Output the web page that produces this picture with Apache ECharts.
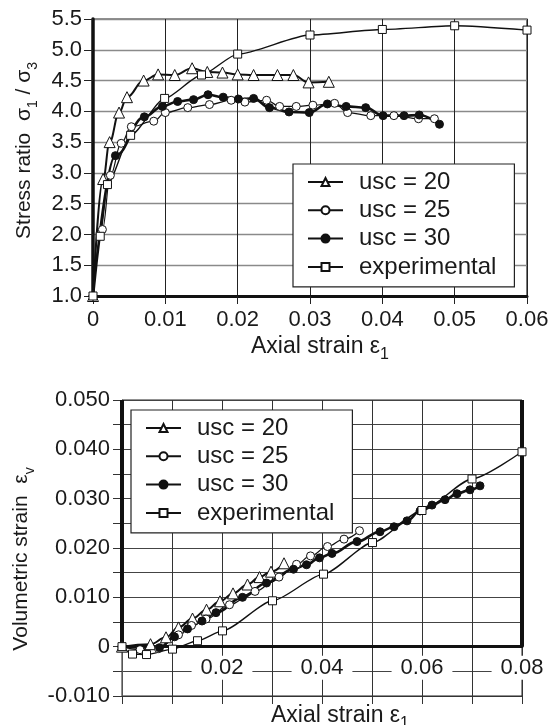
<!DOCTYPE html>
<html><head><meta charset="utf-8">
<script src="https://cdn.jsdelivr.net/npm/echarts@6/dist/echarts.min.js"></script>
<style>html,body{margin:0;padding:0;background:#fff}#c{width:552px;height:725px}</style>
</head><body><div id="c"></div>
<script>
// ---------- tick labels ----------
const xTicks1 = ['0','0.01','0.02','0.03','0.04','0.05','0.06'];
const yTicks1 = ['1.0','1.5','2.0','2.5','3.0','3.5','4.0','4.5','5.0','5.5'];
const xTicks2 = ['0','0.02','0.04','0.06','0.08'];
const yTicks2 = ['-0.010','','0','','0.010','','0.020','','0.030','','0.040','','0.050'];
const seriesNames = ['usc = 20','usc = 25','usc = 30','experimental'];

// ---------- top chart: stress ratio vs axial strain ----------
const usc20X = [0, 0.0014, 0.0023, 0.0036, 0.0047, 0.0070, 0.0090, 0.0113, 0.0137, 0.0158, 0.0179, 0.0200, 0.0222, 0.0255, 0.0277, 0.0298, 0.0326];
const usc20Y = [1.0, 2.90, 3.50, 3.98, 4.23, 4.50, 4.60, 4.59, 4.70, 4.64, 4.63, 4.60, 4.59, 4.59, 4.59, 4.47, 4.48];
const usc25X = [0, 0.0013, 0.0024, 0.0039, 0.0053, 0.0084, 0.0100, 0.0131, 0.0161, 0.0191, 0.0210, 0.0240, 0.0258, 0.0281, 0.0304, 0.0334, 0.0352, 0.0384, 0.0416, 0.0450, 0.0472];
const usc25Y = [1.0, 2.08, 2.96, 3.48, 3.75, 3.84, 3.98, 4.06, 4.11, 4.18, 4.15, 4.18, 4.08, 4.08, 4.10, 4.13, 3.98, 3.93, 3.93, 3.88, 3.88];
const usc30X = [0, 0.0031, 0.0071, 0.0096, 0.0117, 0.0139, 0.0159, 0.0180, 0.0201, 0.0222, 0.0244, 0.0271, 0.0299, 0.0324, 0.0350, 0.0377, 0.0401, 0.0430, 0.0451, 0.0479];
const usc30Y = [1.0, 3.28, 3.91, 4.08, 4.16, 4.19, 4.27, 4.23, 4.20, 4.21, 4.06, 3.99, 3.98, 4.12, 4.08, 4.06, 3.93, 3.93, 3.94, 3.79];
const expX = [0, 0.0010, 0.0020, 0.0052, 0.0099, 0.0150, 0.0200, 0.0300, 0.0400, 0.0500, 0.0600];
const expY = [1.0, 1.97, 2.81, 3.61, 4.21, 4.59, 4.93, 5.24, 5.33, 5.39, 5.32];

// ---------- bottom chart: volumetric strain vs axial strain ----------
const usc20X2 = [0, 0.0057, 0.0088, 0.0113, 0.0141, 0.0169, 0.0196, 0.0222, 0.0251, 0.0275, 0.0298, 0.0324];
const usc20Y2 = [0, 0.0005, 0.0019, 0.0039, 0.0057, 0.0075, 0.0092, 0.0108, 0.0126, 0.0141, 0.0152, 0.0169];
const usc25X2 = [0, 0.0036, 0.0073, 0.0113, 0.0139, 0.0168, 0.0215, 0.0266, 0.0314, 0.0349, 0.0377, 0.0411, 0.0444, 0.0475];
const usc25Y2 = [0, -0.0006, -0.0004, 0.0024, 0.0043, 0.0056, 0.0085, 0.0112, 0.0141, 0.0167, 0.0184, 0.0203, 0.0218, 0.0235];
const usc30X2 = [0, 0.0075, 0.0105, 0.0131, 0.0160, 0.0188, 0.0241, 0.0289, 0.0343, 0.0369, 0.0395, 0.0420, 0.0470, 0.0516, 0.0544, 0.0570, 0.0596, 0.0620, 0.0646, 0.0670, 0.0696, 0.0716];
const usc30Y2 = [0, -0.0002, 0.0020, 0.0036, 0.0052, 0.0069, 0.0100, 0.0129, 0.0157, 0.0166, 0.0180, 0.0189, 0.0213, 0.0233, 0.0243, 0.0255, 0.0275, 0.0287, 0.0298, 0.0310, 0.0318, 0.0326];
const expX2 = [0, 0.0021, 0.0049, 0.0101, 0.0151, 0.0201, 0.0301, 0.0403, 0.0501, 0.0600, 0.0700, 0.0800];
const expY2 = [0, -0.0015, -0.0016, -0.0005, 0.0012, 0.0032, 0.0093, 0.0147, 0.0211, 0.0276, 0.0340, 0.0395];

// ---------- axis ranges ----------
const X1_MIN = 0, X1_MAX = 0.06, X1_INT = 0.01;
const Y1_MIN = 1, Y1_MAX = 5.5, Y1_INT = 0.5;
const X2_MIN = 0, X2_MAX = 0.08, X2_INT = 0.01, X2_LBL_INT = 0.02;
const Y2_MIN = -0.01, Y2_MAX = 0.05, Y2_INT = 0.005;

const GRID1 = { left: 93, top: 19, width: 434, height: 277 };
const GRID2 = { left: 122, top: 400, width: 400, height: 296 };
// distance from the bottom border up to the zero line of the lower chart
const ZERO_OFFSET2 = (0 - Y2_MIN) / (Y2_MAX - Y2_MIN) * GRID2.height;

const FONT = "'Liberation Sans', Arial, sans-serif";
const INK = '#1a1a1a';

const zip = (xs, ys) => xs.map((x, i) => [x, ys[i]]);

const styles = {
  'usc = 20':     { symbol: 'triangle', size: 11, fill: '#fff', width: 2.0, smooth: 0.4 },
  'usc = 25':     { symbol: 'circle',   size: 8,  fill: '#fff', width: 1.2, smooth: 0.4 },
  'usc = 30':     { symbol: 'circle',   size: 8,  fill: '#111', width: 2.6, smooth: 0.4 },
  'experimental': { symbol: 'rect',     size: 8,  fill: '#fff', width: 1.4, smooth: 0.22 }
};

function mkSeries(name, data, xi, yi, extra) {
  const s = styles[name];
  return Object.assign({
    type: 'line', name: name, data: data,
    xAxisIndex: xi, yAxisIndex: yi,
    smooth: s.smooth, smoothMonotone: 'x', clip: false, z: 5,
    symbol: s.symbol, symbolSize: s.size, showAllSymbol: true,
    lineStyle: { color: '#111', width: s.width },
    itemStyle: { color: s.fill, borderColor: '#111', borderWidth: 1 },
    emphasis: { disabled: true }, animation: false
  }, extra || {});
}

function richFor(size) {
  return {
    t: { fontSize: size, lineHeight: 32, fontFamily: FONT, color: INK },
    s: { fontSize: Math.round(size * 0.68), verticalAlign: 'bottom', fontFamily: FONT, color: INK }
  };
}
const xNameRich = richFor(23);
const yNameRich = richFor(21);

const legendCommon = {
  orient: 'vertical', itemWidth: 35, itemHeight: 10, itemGap: 4.3,
  padding: [6, 18, 8, 14], backgroundColor: '#fff',
  borderColor: '#222', borderWidth: 1.2, selectedMode: false,
  textStyle: { fontSize: 24, color: INK, fontFamily: FONT, padding: [0, 0, 0, 11] },
  data: seriesNames
};

const gridCommon = { show: true, borderColor: '#222', backgroundColor: 'transparent', containLabel: false, outerBoundsMode: 'none' };

const option = {
  animation: false,
  backgroundColor: '#fff',
  textStyle: { fontFamily: FONT },
  grid: [
    Object.assign({ borderWidth: 1.2 }, gridCommon, GRID1),
    Object.assign({ borderWidth: 1 }, gridCommon, GRID2)
  ],
  legend: [
    Object.assign({ left: 293, top: 164 }, legendCommon),
    Object.assign({ left: 131, top: 410 }, legendCommon)
  ],
  xAxis: [
    { // top chart
      gridIndex: 0, type: 'value', min: X1_MIN, max: X1_MAX, interval: X1_INT,
      name: '{t|Axial strain ε}{s|1}', nameLocation: 'middle', nameGap: 35,
      nameTextStyle: { rich: xNameRich, padding: [0, 0, 0, 20] },
      axisLine: { onZero: false, lineStyle: { color: '#111', width: 3 } },
      axisTick: { show: true, length: 8, lineStyle: { color: '#222', width: 1 } },
      axisLabel: { fontSize: 22, color: INK, fontFamily: FONT, margin: 13,
        formatter: v => xTicks1[Math.round((v - X1_MIN) / X1_INT)] },
      splitLine: { show: true, lineStyle: { color: '#222', width: 1 } }
    },
    { // bottom chart, border axis with ticks
      gridIndex: 1, type: 'value', min: X2_MIN, max: X2_MAX, interval: X2_INT, position: 'bottom',
      name: '{t|Axial strain ε}{s|1}', nameLocation: 'middle', nameGap: 4,
      nameTextStyle: { rich: xNameRich, padding: [0, 0, 0, 36] },
      axisLine: { onZero: false, lineStyle: { color: '#333', width: 1 } },
      axisTick: { show: true, length: 8, lineStyle: { color: '#333', width: 1 } },
      axisLabel: { show: false },
      splitLine: { show: true, lineStyle: { color: '#333', width: 1 } }
    },
    { // bottom chart, zero line with labels
      gridIndex: 1, type: 'value', min: X2_MIN, max: X2_MAX, interval: X2_LBL_INT,
      position: 'bottom', offset: -ZERO_OFFSET2, z: 3,
      axisLine: { onZero: false, lineStyle: { color: '#111', width: 3 } },
      axisTick: { show: false },
      axisLabel: { fontSize: 22, color: INK, fontFamily: FONT, margin: 9, showMinLabel: false,
        backgroundColor: '#fff', padding: [1, 9, 1, 9],
        formatter: v => xTicks2[Math.round((v - X2_MIN) / X2_LBL_INT)] },
      splitLine: { show: false }
    }
  ],
  yAxis: [
    {
      gridIndex: 0, type: 'value', min: Y1_MIN, max: Y1_MAX, interval: Y1_INT,
      name: '{t|Stress ratio  σ}{s|1}{t| / σ}{s|3}', nameLocation: 'middle', nameGap: 53,
      nameTextStyle: { rich: yNameRich, padding: [0, 0, 0, 14] },
      axisLine: { show: true, lineStyle: { color: '#111', width: 3.5 } },
      axisTick: { show: true, length: 9, lineStyle: { color: '#222', width: 1 } },
      axisLabel: { fontSize: 22, color: INK, fontFamily: FONT, margin: 11,
        formatter: v => yTicks1[Math.round((v - Y1_MIN) / Y1_INT)] },
      splitLine: { show: true, lineStyle: { color: '#8a8a8a', width: 1.4 } }
    },
    {
      gridIndex: 1, type: 'value', min: Y2_MIN, max: Y2_MAX, interval: Y2_INT,
      name: '{t|Volumetric strain  ε}{s|v}', nameLocation: 'middle', nameGap: 82,
      nameTextStyle: { rich: yNameRich, padding: [0, 22, 0, 0] },
      axisLine: { show: true, lineStyle: { color: '#555', width: 1 } },
      axisTick: { show: true, length: 9, lineStyle: { color: '#333', width: 1 } },
      axisLabel: { fontSize: 22, color: INK, fontFamily: FONT, margin: 12,
        formatter: v => yTicks2[Math.round((v - Y2_MIN) / Y2_INT)] },
      splitLine: { show: true, lineStyle: { color: '#444', width: 1 } }
    }
  ],
  series: [
    mkSeries('usc = 20', zip(usc20X, usc20Y), 0, 0),
    mkSeries('usc = 25', zip(usc25X, usc25Y), 0, 0),
    mkSeries('usc = 30', zip(usc30X, usc30Y), 0, 0),
    mkSeries('experimental', zip(expX, expY), 0, 0),
    mkSeries('usc = 20', zip(usc20X2, usc20Y2), 1, 1),
    mkSeries('usc = 25', zip(usc25X2, usc25Y2), 1, 1),
    mkSeries('usc = 30', zip(usc30X2, usc30Y2), 1, 1),
    mkSeries('experimental', zip(expX2, expY2), 1, 1, {
      markLine: {
        silent: true, symbol: 'none', animation: false,
        label: { show: false },
        lineStyle: { color: '#111', width: 4, type: 'solid' },
        data: [
          [{ coord: [X2_MIN, 0] }, { coord: [X2_MIN, Y2_MAX] }],
          [{ coord: [X2_MAX, 0] }, { coord: [X2_MAX, Y2_MAX] }]
        ]
      }
    })
  ]
};

const chart = echarts.init(document.getElementById('c'), null, { renderer: 'canvas' });
chart.setOption(option);
</script>
</body></html>
